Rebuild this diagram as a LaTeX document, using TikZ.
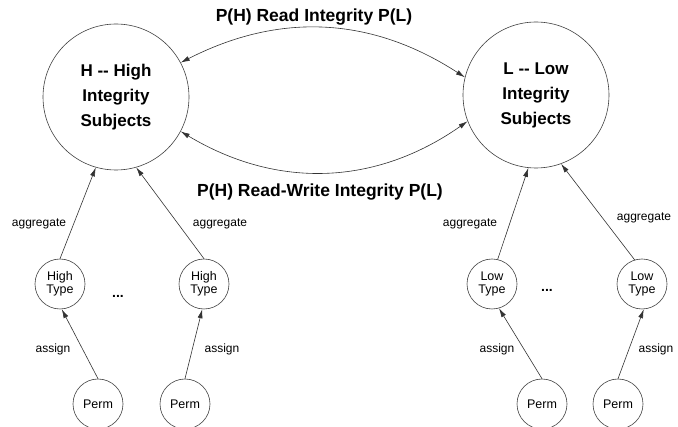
\documentclass[tikz,border=0pt]{standalone}
\usepackage{fontspec}
\setmainfont{Liberation Sans}
\usetikzlibrary{arrows.meta}
\begin{document}
\begin{tikzpicture}[x=1pt,y=1pt,
  big/.style={circle,draw=black!75,line width=0.6pt,minimum size=146pt,inner sep=0pt,align=center,font=\fontsize{17}{25}\selectfont\bfseries},
  small/.style={circle,draw=black!75,line width=0.6pt,minimum size=50pt,inner sep=0pt,align=center,font=\fontsize{12.5}{13}\selectfont},
  lbl/.style={font=\fontsize{12}{14}\selectfont,inner sep=0pt},
  ttl/.style={font=\fontsize{17.5}{20}\selectfont\bfseries,inner sep=0pt},
  dotsty/.style={font=\fontsize{14}{14}\selectfont\bfseries,inner sep=0pt},
  conn/.style={line width=0.6pt,draw=black!80,-{Latex[length=9pt,width=5pt]}},
  both/.style={line width=0.6pt,draw=black!80,{Latex[length=9pt,width=5pt]}-{Latex[length=9pt,width=5pt]}}
]
\clip (0,0) rectangle (678,-427);
\fill[white] (0,0) rectangle (678,-427);

\node[big] (H) at (116,-97) {H -{}- High\\Integrity\\Subjects};
\node[big] (L) at (536,-95) {L -{}- Low\\Integrity\\Subjects};

\node[small] (ht1) at (60,-284) {High\\Type};
\node[small] (ht2) at (204,-284) {High\\Type};
\node[small] (lt1) at (492,-284) {Low\\Type};
\node[small] (lt2) at (642,-284) {Low\\Type};

\node[small] (p1) at (98,-404) {Perm};
\node[small] (p2) at (185,-404) {Perm};
\node[small] (p3) at (542,-404) {Perm};
\node[small] (p4) at (618,-404) {Perm};

\node[ttl] (t1) at (314,-17) {P(H) Read Integrity P(L)};
\node[ttl] (t2) at (320,-192) {P(H) Read-Write Integrity P(L)};

\node[lbl] (ag1) at (39,-224) {aggregate};
\node[lbl] (ag2) at (220,-224) {aggregate};
\node[lbl] (ag3) at (470,-224) {aggregate};
\node[lbl] (ag4) at (644,-218) {aggregate};

\node[lbl] (as1) at (53,-349) {assign};
\node[lbl] (as2) at (222,-349) {assign};
\node[lbl] (as3) at (497,-349) {assign};
\node[lbl] (as4) at (656,-349) {assign};

\node[dotsty] (d1) at (118,-296) {...};
\node[dotsty] (d2) at (547,-290) {...};

\draw[conn] (ht1.north) -- (H.254);
\draw[conn] (ht2.north) -- (H.286);
\draw[conn] (lt1.77) -- (L.264);
\draw[conn] (lt2.107) -- (L.290);
\draw[conn] (p1.north) -- (ht1.274);
\draw[conn] (p2.north) -- (ht2.266);
\draw[conn] (p3.north) -- (lt1.286);
\draw[conn] (p4.north) -- (lt2.274);
\draw[both] (H.28) to[bend left=30] (L.166);
\draw[both] (H.332) to[bend right=33] (L.201);
\end{tikzpicture}
\end{document}
